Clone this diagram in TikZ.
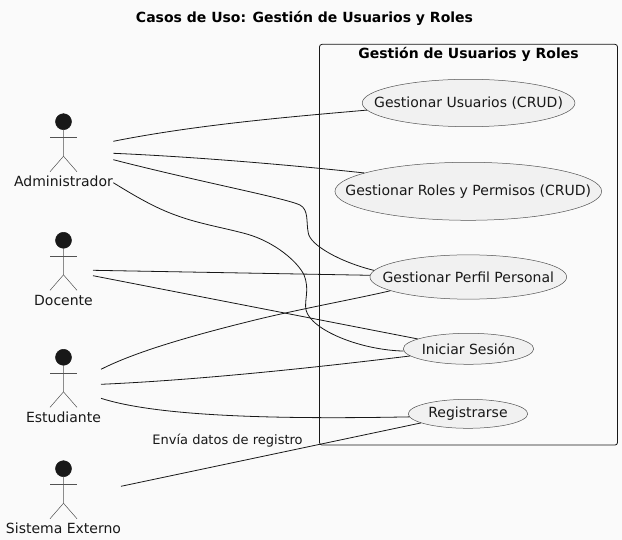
\documentclass[tikz,border=0pt]{standalone}
\usepackage{fontspec}
\setmainfont{DejaVu Sans}
\usepackage{xcolor}
\usepackage{tikz}
\usetikzlibrary{shapes.geometric,positioning}
\definecolor{pback}{HTML}{FAFAFA}
\definecolor{pline}{HTML}{181818}
\definecolor{pcase}{HTML}{F1F1F1}

\begin{document}
\begin{tikzpicture}[
    x=1pt,y=-1pt,
    font=\fontsize{14}{16}\selectfont,
    ucase/.style={ellipse,draw=pline!75,fill=pcase,line width=0.5pt,inner sep=0pt,
                  label={[lbl]center:#1}},
    head/.style={circle,draw=pline,fill=pline,line width=0.5pt,minimum size=16pt,inner sep=0pt},
    limb/.style={draw=pline!75,line width=0.5pt},
    lnk/.style={draw=pline,line width=0.8pt},
    lbl/.style={text=pline,inner sep=0pt}
  ]
    \useasboundingbox (0,0) rectangle (622,540);
    \fill[pback] (0,0) rectangle (622,540);

    \node[font=\fontsize{14}{16}\selectfont\bfseries,inner sep=0pt] (title) at (304.5,18) {Casos de Uso: Gestión de Usuarios y Roles};

    % System box
    \node[draw=pline,line width=0.8pt,rounded corners=2.5pt,minimum width=298pt,minimum height=400.7pt] (sys) at (468.5,244.7) {};
    \node[font=\fontsize{14}{16}\selectfont\bfseries,inner sep=0pt] (systitle) at (468.5,54) {Gestión de Usuarios y Roles};

    % Use cases
    \node[ucase={Gestionar Usuarios (CRUD)},minimum width=212.7pt,minimum height=47.4pt] (usu) at (468.6,103) {};
    \node[ucase={Gestionar Roles y Permisos (CRUD)},minimum width=266.7pt,minimum height=58pt] (rol) at (468.3,191.3) {};
    \node[ucase={Gestionar Perfil Personal},minimum width=196.7pt,minimum height=44.3pt] (per) at (468.3,277) {};
    \node[ucase={Iniciar Sesión},minimum width=130.4pt,minimum height=31pt] (ini) at (468.5,348.8) {};
    \node[ucase={Registrarse},minimum width=119.4pt,minimum height=29pt] (reg) at (468,413.8) {};

    % Actors
    \node[head] (adm) at (63.5,121.7) {};
    \node[head] (doc) at (63.5,240.3) {};
    \node[head] (est) at (63.5,357.3) {};
    \node[head] (ext) at (63.5,468.7) {};
    \foreach \act in {adm,doc,est,ext} {
      \draw[limb] (\act.south) -- ++(0,26.3) coordinate (\act hip) -- ++(-13.5,15.5);
      \draw[limb] (\act hip) -- ++(13.5,15.5);
      \draw[limb] ([xshift=-13.5pt,yshift=-7.7pt]\act.south) -- ++(27,0);
    }
    \node[lbl] (admtxt) at (63.5,181)   {Administrador};
    \node[lbl] (doctxt) at (63.5,300)   {Docente};
    \node[lbl] (esttxt) at (63.5,417)   {Estudiante};
    \node[lbl] (exttxt) at (63.5,528.3) {Sistema Externo};

    % Link starts
    \coordinate (adma) at (113.3,141.3);
    \coordinate (admb) at (113.3,153.3);
    \coordinate (admc) at (113.3,159.7);
    \coordinate (admd) at (113.3,182.7);
    \coordinate (doca) at (93,270.3);
    \coordinate (docb) at (93,275.7);
    \coordinate (esta) at (101,369.3);
    \coordinate (estb) at (101,384.3);
    \coordinate (estc) at (101,398.3);
    \coordinate (exta) at (121,486.3);

    % Links
    \draw[lnk] (adma) .. controls (200,124) and (300,116) .. (usu.184.7);
    \draw[lnk] (admb) .. controls (200,157) and (300,166) .. (rol.170.4);
    \draw[lnk] (admc) .. controls (200,182) and (285,198) .. (300,205)
      .. controls (309,210) and (306,222) .. (308.3,233)
      .. controls (310,245) and (340,262) .. (per.176.1);
    \draw[lnk] (admd) .. controls (135,196) and (155,208) .. (178,216)
      .. controls (200,224) and (225,228) .. (246.7,234)
      .. controls (275,242) and (298,262) .. (304,275)
      .. controls (310,290) and (304,300) .. (306,310)
      .. controls (311,330) and (360,350) .. (ini.182);
    \draw[lnk] (doca) -- (per.179);
    \draw[lnk] (docb) -- (ini.169.3);
    \draw[lnk] (esta) .. controls (135,352) and (190,336) .. (255,320)
      .. controls (300,309) and (360,298) .. (per.190);
    \draw[lnk] (estb) .. controls (200,380) and (320,367) .. (ini.187.9);
    \draw[lnk] (estc) .. controls (150,414) and (250,420) .. (reg.183.8);
    \draw[lnk] (exta) -- (reg.191.6);
    \node[lbl,font=\fontsize{13}{15}\selectfont] (envia) at (227.5,440.5) {Envía datos de registro};

  \end{tikzpicture}
\end{document}
